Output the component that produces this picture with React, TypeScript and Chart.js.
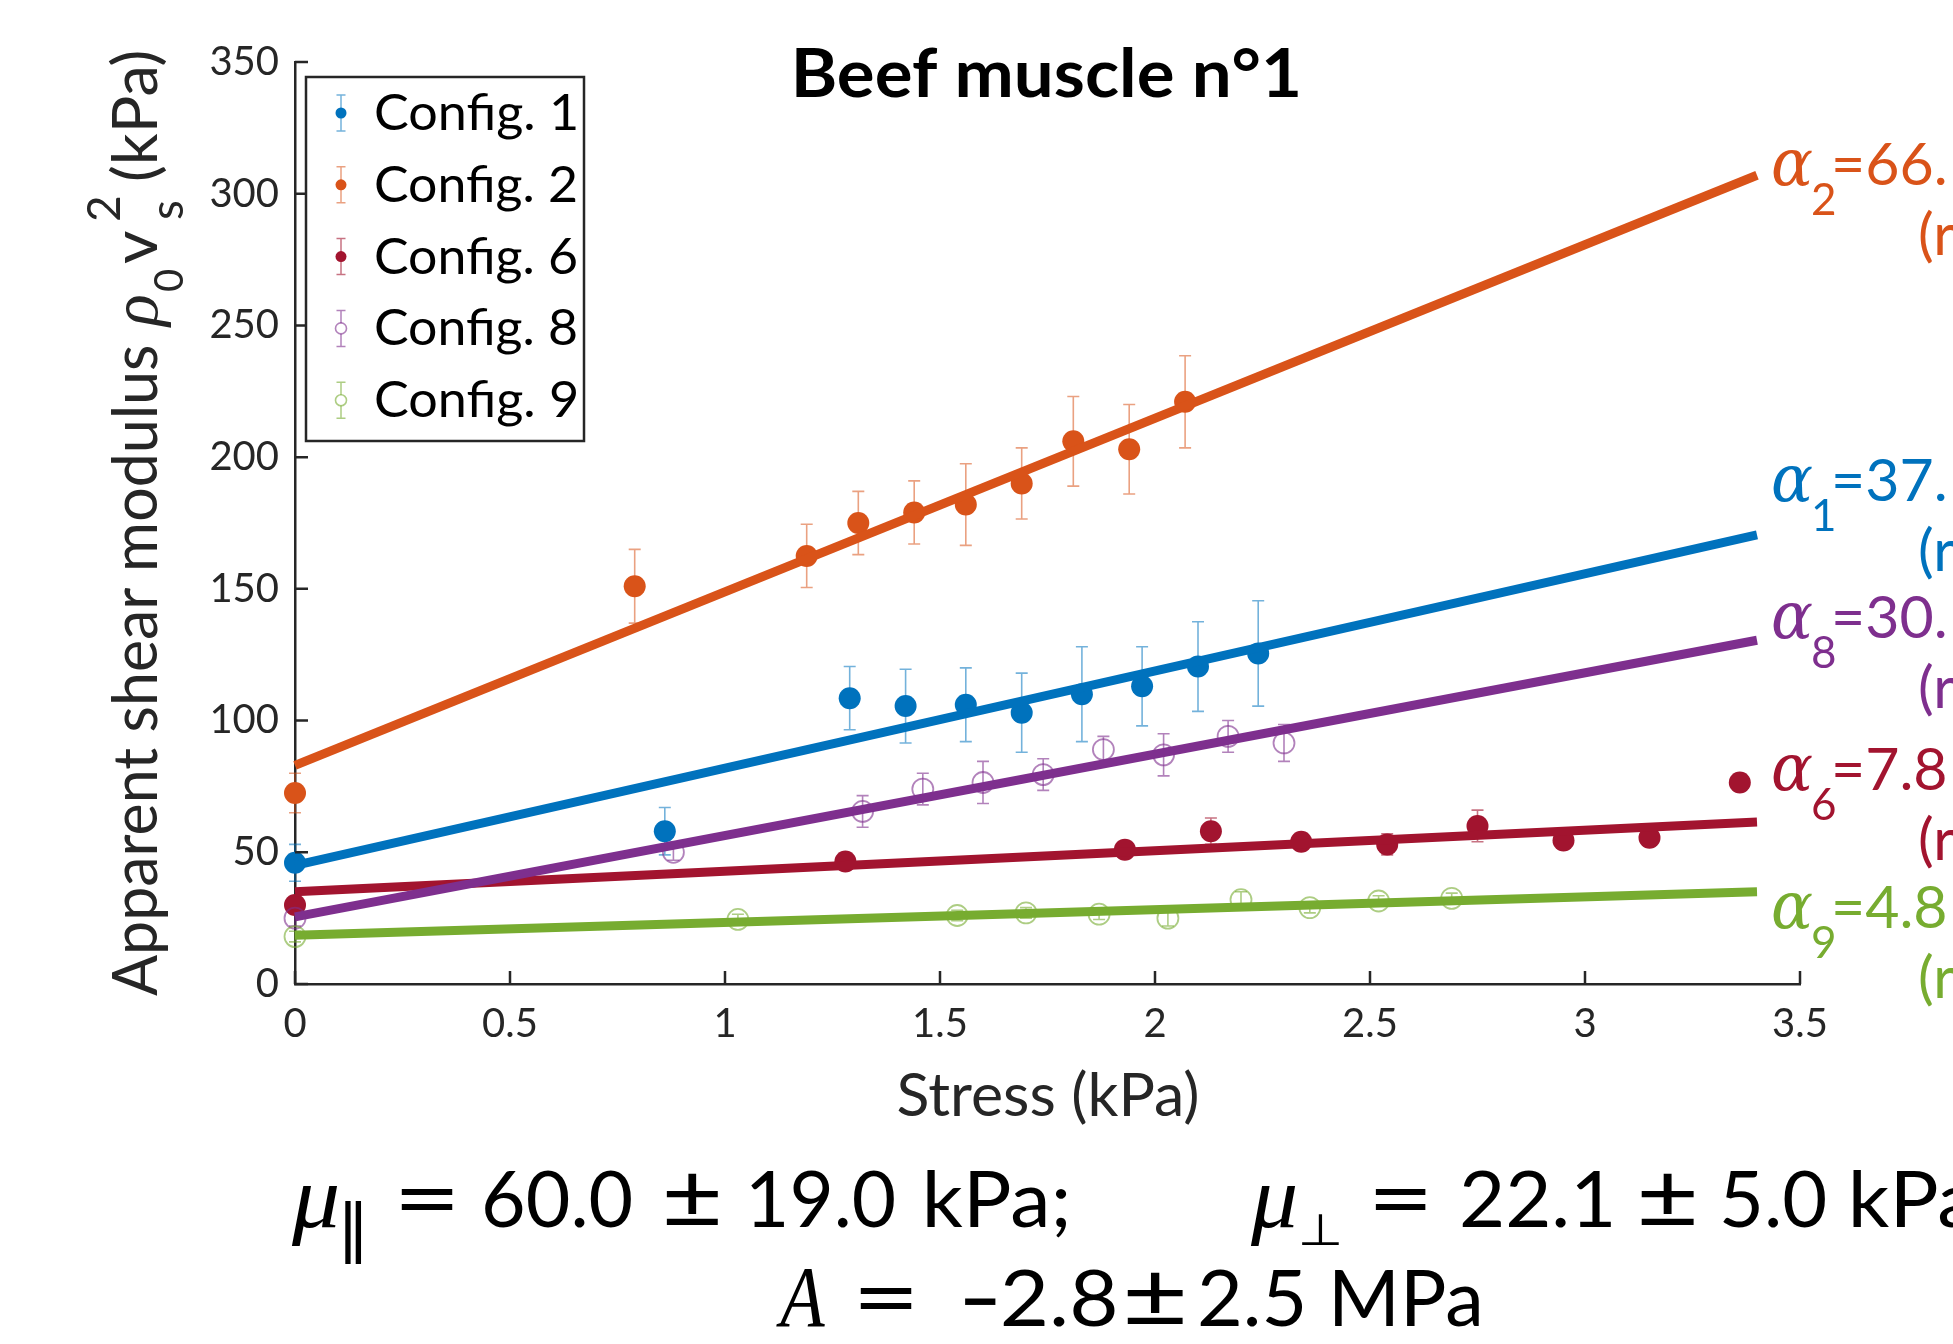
import React, { useEffect, useRef } from "react";
import { Chart, registerables } from "chart.js";

Chart.register(...registerables);

// ---------------- data ----------------
const seriesNames = ["Config. 1", "Config. 2", "Config. 6", "Config. 8", "Config. 9"];

const config1Stress = [0, 0.86, 1.29, 1.42, 1.56, 1.69, 1.83, 1.97, 2.1, 2.24];
const config1Modulus = [46, 58, 108.5, 105.5, 106, 103, 110, 113, 120.5, 125.5];
const config1Error = [7, 9, 12, 14, 14, 15, 18, 15, 17, 20];

const config2Stress = [0, 0.79, 1.19, 1.31, 1.44, 1.56, 1.69, 1.81, 1.94, 2.07];
const config2Modulus = [72.5, 151, 162.5, 175, 179, 182, 190, 206, 203, 221];
const config2Error = [7.5, 14, 12, 12, 12, 15.5, 13.5, 17, 17, 17.5];

const config6Stress = [0, 1.28, 1.93, 2.13, 2.34, 2.54, 2.75, 2.95, 3.15, 3.36];
const config6Modulus = [30, 46.5, 51, 58, 54, 53, 60, 54.5, 55.5, 76.5];
const config6Error = [2, 2, 2, 5, 2, 4, 6, 2, 2, 1];

const config8Stress = [0, 0.88, 1.32, 1.46, 1.6, 1.74, 1.88, 2.02, 2.17, 2.3];
const config8Modulus = [25, 50, 65.5, 74, 76.5, 79.5, 89, 87, 94, 91.5];
const config8Error = [3, 3, 6, 6, 8, 6, 5, 8, 6, 7];

const config9Stress = [0, 1.03, 1.54, 1.7, 1.87, 2.03, 2.2, 2.36, 2.52, 2.69];
const config9Modulus = [18, 24.5, 26, 27, 26.5, 25, 32, 29, 31.5, 32.5];
const config9Error = [2, 2, 2, 2, 2, 3, 3, 2, 2, 2];

// linear fits (start and end of each fitted line)
const fitStress = [0, 3.4];
const fitStart = [45, 83, 35, 25.5, 18.5];
const fitEnd = [170.5, 307, 61.5, 130.5, 35];

const alphaSubscripts = ["1", "2", "6", "8", "9"];
const alphaValues = ["=37.", "=66.", "=7.8", "=30.", "=4.8"];
const alphaSecondLine = "(r";

const xTickValues = [0, 0.5, 1, 1.5, 2, 2.5, 3, 3.5];
const yTickValues = [0, 50, 100, 150, 200, 250, 300, 350];

const titleText = "Beef muscle n°1";
const xTitleText = "Stress (kPa)";

// ---------------- styles / layout ----------------
const W = 1953;
const H = 1344;
const seriesColors = ["#0072BD", "#D95319", "#A2142F", "#7E2F8E", "#77AC30"];
const lightColors = [
  "rgba(0,114,189,0.55)",
  "rgba(217,83,25,0.55)",
  "rgba(162,20,47,0.6)",
  "rgba(126,47,142,0.6)",
  "rgba(119,172,48,0.6)",
];
const seriesFilled = [true, true, true, false, false];
const axisColor = "#262626";
const SANS = "Lato";
const SERIF = "'Liberation Serif'";

const alphaLayout = {
  alphaX: 1771,
  subX: 1811,
  valueX: 1831,
  secondX: 1918,
  baselines: [501, 185, 790, 638, 928],
  subDy: 30,
  secondDy: 70,
};

type Run = { t: string; x: number; w?: number; font: string; dy?: number };

const yTitleRuns: Run[] = [
  { t: "Apparent shear modulus", x: 0, w: 650, font: `61px ${SANS}` },
  { t: "ρ", x: 668, w: 32, font: `italic 66px ${SERIF}` },
  { t: "0", x: 704, font: `40px ${SANS}`, dy: 26 },
  { t: "v", x: 732, w: 33, font: `61px ${SANS}` },
  { t: "2", x: 774, font: `46px ${SANS}`, dy: -37 },
  { t: "s", x: 776, font: `46px ${SANS}`, dy: 26 },
  { t: "(kPa)", x: 816, w: 128, font: `61px ${SANS}` },
];

const eqLine1: Run[] = [
  { t: "μ", x: 291, w: 47, font: `italic 88px ${SERIF}` },
  { t: "∥", x: 345, w: 17, font: "64px 'DejaVu Sans'", dy: 23 },
  { t: "=", x: 401, w: 52, font: `88px ${SANS}`, dy: 2 },
  { t: "60.0", x: 485, w: 146, font: `78px ${SANS}` },
  { t: "±", x: 666, w: 52, font: `92px ${SANS}`, dy: 2 },
  { t: "19.0", x: 751, w: 143, font: `78px ${SANS}` },
  { t: "kPa;", x: 927, w: 140, font: `78px ${SANS}` },
  { t: "μ", x: 1250, w: 46, font: `italic 88px ${SERIF}` },
  { t: "⊥", x: 1301, w: 38, font: "44px 'DejaVu Sans'", dy: 18 },
  { t: "=", x: 1375, w: 51, font: `88px ${SANS}`, dy: 2 },
  { t: "22.1", x: 1462, w: 149, font: `78px ${SANS}` },
  { t: "±", x: 1641, w: 53, font: `92px ${SANS}`, dy: 2 },
  { t: "5.0", x: 1723, w: 102, font: `78px ${SANS}` },
  { t: "kPa", x: 1853, w: 120, font: `78px ${SANS}` },
];
const eqLine2: Run[] = [
  { t: "A", x: 776, w: 49, font: `italic 86px ${SERIF}` },
  { t: "=", x: 860, w: 52, font: `88px ${SANS}`, dy: 2 },
  { t: "−", x: 965, w: 31, font: `78px 'DejaVu Sans'` },
  { t: "2.8", x: 1003, w: 112, font: `78px ${SANS}` },
  { t: "±", x: 1127, w: 56, font: `92px ${SANS}`, dy: 2 },
  { t: "2.5", x: 1200, w: 103, font: `78px ${SANS}` },
  { t: "MPa", x: 1335, w: 144, font: `78px ${SANS}` },
];

// draws a run; if a width is given the run's ink is fitted to exactly that width
function drawRuns(ctx: CanvasRenderingContext2D, runs: Run[], baseline: number) {
  runs.forEach((r) => {
    ctx.font = r.font;
    const y = baseline + (r.dy || 0);
    if (r.w) {
      const m = ctx.measureText(r.t);
      const left = m.actualBoundingBoxLeft || 0;
      const ink = left + (m.actualBoundingBoxRight || m.width) || 1;
      const s = r.w / ink;
      ctx.save();
      ctx.translate(r.x + left * s, y);
      ctx.scale(s, 1);
      ctx.fillText(r.t, 0, 0);
      ctx.restore();
    } else {
      ctx.fillText(r.t, r.x, y);
    }
  });
}

function fitText(ctx: CanvasRenderingContext2D, t: string, cx: number, y: number, w: number) {
  drawRuns(ctx, [{ t, x: cx - w / 2, w, font: ctx.font }], y);
}

const seriesData = [
  { x: config1Stress, y: config1Modulus, e: config1Error },
  { x: config2Stress, y: config2Modulus, e: config2Error },
  { x: config6Stress, y: config6Modulus, e: config6Error },
  { x: config8Stress, y: config8Modulus, e: config8Error },
  { x: config9Stress, y: config9Modulus, e: config9Error },
];

const decorPlugin = {
  id: "decor",
  beforeDatasetsDraw(chart: any) {
    const ctx: CanvasRenderingContext2D = chart.ctx;
    const xs = chart.scales.x;
    const ys = chart.scales.y;
    ctx.save();
    seriesData.forEach((s, i) => {
      ctx.strokeStyle = lightColors[i];
      ctx.lineWidth = 1.6;
      s.x.forEach((xv, j) => {
        const px = xs.getPixelForValue(xv);
        const top = ys.getPixelForValue(s.y[j] + s.e[j]);
        const bot = ys.getPixelForValue(s.y[j] - s.e[j]);
        ctx.beginPath();
        ctx.moveTo(px, top);
        ctx.lineTo(px, bot);
        ctx.moveTo(px - 6, top);
        ctx.lineTo(px + 6, top);
        ctx.moveTo(px - 6, bot);
        ctx.lineTo(px + 6, bot);
        ctx.stroke();
      });
    });
    ctx.restore();
  },
  afterDraw(chart: any) {
    const ctx: CanvasRenderingContext2D = chart.ctx;
    const xs = chart.scales.x;
    const ys = chart.scales.y;
    const area = chart.chartArea;
    ctx.save();

    // inward ticks
    ctx.strokeStyle = axisColor;
    ctx.lineWidth = 2.5;
    ctx.beginPath();
    xTickValues.forEach((v) => {
      const px = xs.getPixelForValue(v);
      ctx.moveTo(px, area.bottom);
      ctx.lineTo(px, area.bottom - 13);
    });
    yTickValues.forEach((v) => {
      const py = ys.getPixelForValue(v);
      ctx.moveTo(area.left, py);
      ctx.lineTo(area.left + 13, py);
    });
    ctx.stroke();

    ctx.textBaseline = "alphabetic";
    ctx.textAlign = "left";

    // title
    ctx.fillStyle = "#000";
    ctx.font = `bold 67px ${SANS}`;
    fitText(ctx, titleText, 1047, 97, 502);

    // x axis title
    ctx.fillStyle = axisColor;
    ctx.font = `60px ${SANS}`;
    fitText(ctx, xTitleText, (area.left + area.right) / 2, 1116, 300);

    // y axis title (rotated, rich text)
    ctx.save();
    ctx.translate(157, 996);
    ctx.rotate(-Math.PI / 2);
    drawRuns(ctx, yTitleRuns, 0);
    ctx.restore();

    // legend
    const lx = 306, ly = 77, lw = 278, lh = 364;
    ctx.fillStyle = "#fff";
    ctx.fillRect(lx, ly, lw, lh);
    ctx.strokeStyle = axisColor;
    ctx.lineWidth = 2.5;
    ctx.strokeRect(lx, ly, lw, lh);
    seriesNames.forEach((name, i) => {
      const cy = 113 + i * 71.8;
      const cx = 341;
      ctx.strokeStyle = lightColors[i];
      ctx.lineWidth = 1.5;
      ctx.beginPath();
      ctx.moveTo(cx, cy - 18);
      ctx.lineTo(cx, cy + 18);
      ctx.moveTo(cx - 4.5, cy - 18);
      ctx.lineTo(cx + 4.5, cy - 18);
      ctx.moveTo(cx - 4.5, cy + 18);
      ctx.lineTo(cx + 4.5, cy + 18);
      ctx.stroke();
      ctx.beginPath();
      ctx.arc(cx, cy, 5.5, 0, Math.PI * 2);
      if (seriesFilled[i]) {
        ctx.fillStyle = seriesColors[i];
        ctx.fill();
      } else {
        ctx.fillStyle = "#fff";
        ctx.fill();
        ctx.strokeStyle = lightColors[i];
        ctx.lineWidth = 1.6;
        ctx.stroke();
      }
      ctx.fillStyle = "#000";
      drawRuns(ctx, [{ t: name, x: 376, w: 200, font: `50px ${SANS}` }], cy + 17);
    });

    // alpha annotations
    seriesNames.forEach((_, i) => {
      const b = alphaLayout.baselines[i];
      ctx.fillStyle = seriesColors[i];
      ctx.font = `italic 66px 'DejaVu Serif'`;
      ctx.fillText("α", alphaLayout.alphaX, b, 42);
      ctx.font = `44px ${SANS}`;
      ctx.fillText(alphaSubscripts[i], alphaLayout.subX, b + alphaLayout.subDy);
      ctx.font = `59px ${SANS}`;
      ctx.fillText(alphaValues[i], alphaLayout.valueX, b);
      ctx.fillText(alphaSecondLine, alphaLayout.secondX, b + alphaLayout.secondDy);
    });

    // equations below the chart
    ctx.fillStyle = "#000";
    drawRuns(ctx, eqLine1, 1227);
    drawRuns(ctx, eqLine2, 1326);

    ctx.restore();
  },
};

export default function App() {
  const ref = useRef<HTMLCanvasElement | null>(null);

  useEffect(() => {
    document.body.style.margin = "0";
    const canvas = ref.current;
    if (!canvas) return;

    const scatterSets = seriesData.map((s, i) => ({
      type: "scatter",
      label: seriesNames[i],
      data: s.x.map((x, j) => ({ x, y: s.y[j] })),
      pointRadius: seriesFilled[i] ? 11 : 10.5,
      pointHoverRadius: 11,
      pointBackgroundColor: seriesFilled[i] ? seriesColors[i] : "rgba(0,0,0,0)",
      pointBorderColor: seriesFilled[i] ? seriesColors[i] : lightColors[i],
      pointBorderWidth: seriesFilled[i] ? 0 : 1.8,
      showLine: false,
      clip: false,
      order: 30 - i,
    }));

    const fitSets = seriesNames.map((n, i) => ({
      type: "line",
      label: `Fit ${n}`,
      data: [
        { x: fitStress[0], y: fitStart[i] },
        { x: fitStress[1], y: fitEnd[i] },
      ],
      borderColor: seriesColors[i],
      backgroundColor: seriesColors[i],
      borderWidth: 9,
      borderCapStyle: "butt",
      pointRadius: 0,
      fill: false,
      tension: 0,
      clip: false,
      order: 10 - i,
    }));

    const tickFont = { family: SANS, size: 40 };

    const chart = new Chart(canvas, {
      type: "scatter",
      data: { datasets: [...scatterSets, ...fitSets] as any },
      options: {
        animation: false,
        responsive: false,
        maintainAspectRatio: false,
        events: [],
        layout: { padding: { left: 0, right: 153, top: 62, bottom: 0 } },
        plugins: {
          legend: { display: false },
          tooltip: { enabled: false },
          title: { display: false },
        },
        scales: {
          x: {
            type: "linear",
            min: 0,
            max: 3.5,
            afterFit: (s: any) => {
              s.height = 360;
            },
            afterBuildTicks: (s: any) => {
              s.ticks = xTickValues.map((v) => ({ value: v }));
            },
            grid: { display: false, drawTicks: false },
            border: { display: true, color: axisColor, width: 2.5 },
            ticks: {
              font: tickFont,
              color: axisColor,
              padding: 16,
              maxRotation: 0,
              autoSkip: false,
              callback: (v: any) => String(v),
            },
          },
          y: {
            type: "linear",
            min: 0,
            max: 350,
            afterFit: (s: any) => {
              s.width = 295;
            },
            afterBuildTicks: (s: any) => {
              s.ticks = yTickValues.map((v) => ({ value: v }));
            },
            grid: { display: false, drawTicks: false },
            border: { display: true, color: axisColor, width: 2.5 },
            ticks: {
              font: tickFont,
              color: axisColor,
              padding: 16,
              autoSkip: false,
              callback: (v: any) => String(v),
            },
          },
        },
      } as any,
      plugins: [decorPlugin as any],
    });

    return () => chart.destroy();
  }, []);

  return <canvas ref={ref} width={W} height={H} style={{ display: "block" }} />;
}
